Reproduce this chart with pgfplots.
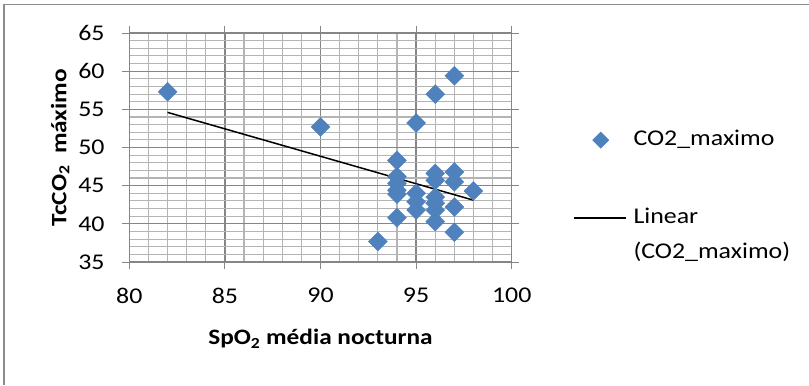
\documentclass[border=0pt]{standalone}
\usepackage{pgfplots}
\pgfplotsset{compat=1.18}
\usepackage{fontspec}
\setmainfont[FakeStretch=1.15]{Carlito}
\definecolor{diamondblue}{HTML}{4F81BD}
\definecolor{majgrid}{HTML}{868686}
\definecolor{mingrid}{HTML}{B4B4B4}
\begin{document}
\fontsize{22.5bp}{27bp}\selectfont
\begin{tikzpicture}[x=1bp,y=1bp]
\path[use as bounding box] (-129.3,-123) rectangle (679.7,262);
\draw[gray!90, line width=1.8bp] (-125.3,-123) -- (-125.3,257.5) -- (679.7,257.5);
\begin{axis}[
  at={(0,0)}, anchor=south west,
  scale only axis, width=382.4bp, height=229bp,
  xmin=80, xmax=100, ymin=35, ymax=65,
  xtick={80,85,...,100}, ytick={35,40,...,65},
  minor x tick num=4, minor y tick num=4,
  grid=both,
  major grid style={draw=majgrid, line width=1.3bp},
  minor grid style={draw=mingrid, line width=1.1bp},
  axis line style={draw=majgrid, line width=1.3bp},
  major tick style={draw=majgrid, line width=1bp},
  tick align=outside, major tick length=7bp, minor tick length=0pt,
  /pgf/number format/assume math mode=true,
  ticklabel style={font=\fontsize{22.5bp}{27bp}\selectfont},
  xticklabel style={yshift=-11bp},
  yticklabel style={xshift=-10bp},
  label style={font=\bfseries\fontsize{22bp}{27bp}\selectfont},
  xlabel={SpO\textsubscript{2} média nocturna},
  ylabel={TcCO\textsubscript{2}\ \ máximo},
  xlabel style={at={(axis description cs:0.5,-0.336)}, anchor=center},
  ylabel style={at={(axis description cs:-0.181,0.5)}, anchor=center, rotate=0},
  legend cell align=left,
  legend style={at={(1.1603,0.5786)}, anchor=north west, draw=none, fill=none,
    inner sep=0pt, outer sep=0pt, row sep=14bp, column sep=7bp,
    nodes={inner sep=0pt, text height=16bp, text depth=5bp,
      font=\fontsize{22.5bp}{27bp}\selectfont}},
]
\addplot[only marks, mark=square*, mark size=6.7bp,
  mark options={rotate=45, fill=diamondblue, draw=diamondblue},
  legend image code/.code={\path[draw=none, fill=none] (0bp,-1bp) rectangle (52bp,1bp);
    \path[fill=diamondblue, draw=none] (27bp,8.5bp) -- (35.5bp,0bp) -- (27bp,-8.5bp) -- (18.5bp,0bp) -- cycle;}]
coordinates {
(82,57.3) (90,52.7) (93,37.7)
(94,48.3) (94,46.2) (94,45.3) (94,44.4) (94,43.9) (94,40.8)
(95,53.2) (95,44.0) (95,42.9) (95,41.8)
(96,57.0) (96,46.6) (96,45.7) (96,43.5) (96,42.7) (96,41.8) (96,40.3)
(97,59.4) (97,46.8) (97,45.5) (97,42.2) (97,38.9)
(98,44.3)
};
\addlegendentry{CO2\_maximo}
\addlegendimage{empty legend}
\addlegendentry[text height=24bp]{}
\addplot[black, line width=1.5bp,
  legend image code/.code={\draw[black, line width=1.5bp] (0bp,0bp) -- (52bp,0bp);}]
coordinates {(82,54.6) (98,43.1)};
\addlegendentry{Linear}
\addlegendimage{empty legend}
\addlegendentry{(CO2\_maximo)}
\end{axis}
\end{tikzpicture}
\end{document}
